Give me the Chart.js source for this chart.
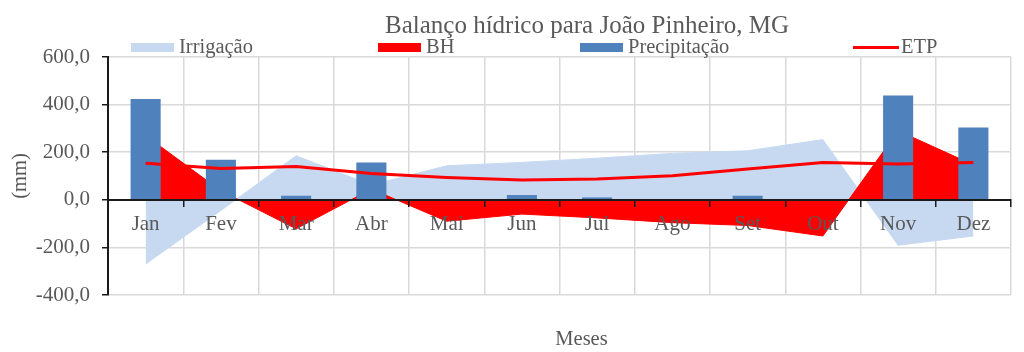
<!DOCTYPE html>
<html>
<head>
<meta charset="utf-8">
<script src="https://cdn.jsdelivr.net/npm/chart.js@4"></script>
<style>
html,body{margin:0;padding:0;background:#fff;}
#wrap{width:1024px;height:352px;}
</style>
</head>
<body>
<div id="wrap"><canvas id="c" width="1024" height="352"></canvas></div>
<script>
// ---- data ----
const months = ['Jan','Fev','Mar','Abr','Mai','Jun','Jul','Ago','Set','Out','Nov','Dez'];
const irrigacao = [-270, -45, 185, 62, 143, 157, 175, 195, 206, 253, -191, -152];
const bh = [270, 38, -122, 45, -90, -60, -76, -96, -108, -152, 290, 147];
const precipitacao = [424, 168, 17, 157, 0, 20, 10, 0, 17, 0, 438, 304];
const etp = [154, 132, 140, 111, 94, 83, 87, 101, 129, 157, 150, 157];
const yTickValues = [-400, -200, 0, 200, 400, 600];
const chartTitle = 'Balanço hídrico para João Pinheiro, MG';
const xTitle = 'Meses';
const yTitle = '(mm)';

const FONT = "'Liberation Serif','Times New Roman',serif";
const TXT = '#595959';
const GRID = '#d9d9d9';
const AXIS = '#1a1a1a';

Chart.defaults.font.family = FONT;
Chart.defaults.font.size = 21;
Chart.defaults.color = TXT;

const fmt = v => v.toFixed(1).replace('.', ',');

const titleLegendPlugin = {
  id: 'titleLegend',
  afterLayout(chart) {
    // the original's x axis title sits slightly right of the plot centre
    const s = chart.scales.x2;
    if (s) { s.left += 22; s.right += 22; }
  },
  afterDraw(chart) {
    const ctx = chart.ctx;
    ctx.save();
    ctx.fillStyle = TXT;
    ctx.font = '25px ' + FONT;
    ctx.textAlign = 'center';
    ctx.textBaseline = 'alphabetic';
    ctx.fillText(chartTitle, 587, 33);
    ctx.font = '20.5px ' + FONT;
    ctx.textAlign = 'left';
    const starts = [131, 378, 580, 853];
    chart.data.datasets.forEach((ds, i) => {
      const x = starts[i];
      if (ds.type === 'line' && !ds.fill) {
        ctx.strokeStyle = ds.borderColor;
        ctx.lineWidth = 3;
        ctx.beginPath();
        ctx.moveTo(x, 47.5);
        ctx.lineTo(x + 46, 47.5);
        ctx.stroke();
      } else {
        ctx.fillStyle = ds.backgroundColor;
        ctx.fillRect(x, 43, 43, 9);
      }
      ctx.fillStyle = TXT;
      ctx.fillText(ds.label, x + 48, 53);
    });
    ctx.restore();
  }
};

new Chart(document.getElementById('c'), {
  type: 'bar',
  data: {
    labels: months,
    datasets: [
      {
        type: 'line', label: 'Irrigação', data: irrigacao,
        backgroundColor: '#c6d9f1', borderColor: '#c6d9f1', borderWidth: 1,
        pointRadius: 0, fill: 'origin', tension: 0, order: 4, xAxisID: 'x', yAxisID: 'y'
      },
      {
        type: 'line', label: 'BH', data: bh,
        backgroundColor: '#ff0000', borderColor: '#ff0000', borderWidth: 1,
        pointRadius: 0, fill: 'origin', tension: 0, order: 3, xAxisID: 'x', yAxisID: 'y'
      },
      {
        type: 'bar', label: 'Precipitação', data: precipitacao,
        backgroundColor: '#4f81bd', borderWidth: 0,
        barPercentage: 0.4, categoryPercentage: 1, order: 2, xAxisID: 'x', yAxisID: 'y'
      },
      {
        type: 'line', label: 'ETP', data: etp,
        borderColor: '#ff0000', backgroundColor: '#ff0000', borderWidth: 3,
        pointRadius: 0, fill: false, tension: 0, order: 1, xAxisID: 'x', yAxisID: 'y'
      }
    ]
  },
  options: {
    responsive: false,
    animation: false,
    layout: { padding: { top: 57, right: 13, left: 0, bottom: 0 } },
    plugins: {
      legend: { display: false },
      title: { display: false },
      tooltip: { enabled: false }
    },
    scales: {
      x: {
        type: 'category', axis: 'x', position: { y: 0 }, offset: true,
        grid: { offset: true, color: GRID, lineWidth: 1.5, drawTicks: false },
        border: { display: false },
        ticks: { color: TXT, font: { size: 21 }, padding: 12, maxRotation: 0, autoSkip: false, z: 1 }
      },
      x3: {
        type: 'category', axis: 'x', display: true, position: { y: 0 }, offset: true, labels: months,
        grid: { display: true, offset: true, drawOnChartArea: false, drawTicks: true, tickLength: 6, tickColor: AXIS, color: AXIS, lineWidth: 1.5, z: 2 },
        border: { display: true, color: AXIS, width: 2, z: 2 },
        ticks: { display: false }
      },
      x2: {
        type: 'category', axis: 'x', position: 'bottom', offset: true, labels: months,
        grid: { display: false }, border: { display: false }, ticks: { display: false },
        title: { display: true, text: xTitle, color: TXT, font: { size: 20.5 }, padding: { top: 0, bottom: 0 } },
        afterFit(s) { s.height = 57; }
      },
      y: {
        min: -400, max: 600,
        afterBuildTicks(s) { s.ticks = yTickValues.map(v => ({ value: v })); },
        ticks: { callback: v => fmt(v), color: TXT, font: { size: 21 }, padding: 12 },
        grid: { color: GRID, lineWidth: 1.5, tickColor: AXIS, tickLength: 6 },
        border: { color: AXIS, width: 2 },
        title: { display: true, text: yTitle, color: TXT, font: { size: 20.5 }, padding: { top: 8, bottom: 0 } },
        afterFit(s) { s.width = 108; }
      }
    }
  },
  plugins: [titleLegendPlugin]
});
</script>
</body>
</html>
